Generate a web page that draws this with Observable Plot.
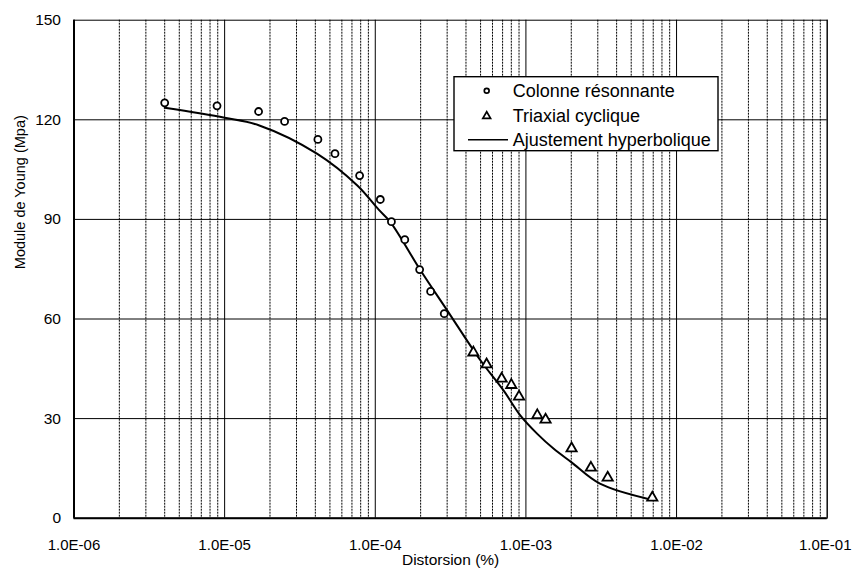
<!DOCTYPE html>
<html>
<head>
<meta charset="utf-8">
<script src="https://cdn.jsdelivr.net/npm/d3@7"></script>
<script src="https://cdn.jsdelivr.net/npm/@observablehq/plot@0.6"></script>
<style>
  html, body { margin: 0; padding: 0; background: #fff; }
  #chart { position: relative; width: 852px; height: 574px; }
</style>
</head>
<body>
<div id="chart"></div>
<script>
// Colonne résonnante (circles)
const colX = [4.0e-6, 8.9e-6, 1.68e-5, 2.5e-5, 4.16e-5, 5.4e-5, 7.87e-5, 1.08e-4, 1.28e-4, 1.57e-4, 1.97e-4, 2.33e-4, 2.87e-4];
const colY = [125.1, 124.2, 122.5, 119.5, 114.1, 109.8, 103.2, 96.0, 89.3, 83.9, 74.9, 68.3, 61.6];
// Triaxial cyclique (triangles)
const triX = [4.48e-4, 5.48e-4, 6.9e-4, 8.0e-4, 9.0e-4, 1.19e-3, 1.35e-3, 2.01e-3, 2.7e-3, 3.49e-3, 6.9e-3];
const triY = [49.9, 46.3, 42.0, 40.1, 36.6, 31.0, 29.7, 21.0, 15.2, 12.2, 6.2];
// Ajustement hyperbolique (line)
const fitX = [4.0e-6, 1.0e-5, 1.7e-5, 4.1e-5, 7.6e-5, 1.05e-4, 1.26e-4, 2.0e-4, 3.0e-4, 5.0e-4, 7.1e-4, 9.2e-4, 1.19e-3, 1.53e-3, 2.0e-3, 3.1e-3, 6.9e-3];
const fitY = [123.6, 120.6, 118.3, 109.8, 100.2, 93.0, 89.2, 74.6, 62.6, 47.5, 38.5, 30.9, 25.4, 20.9, 16.9, 10.4, 5.5];

// Axes
const xTicks = [1e-6, 1e-5, 1e-4, 1e-3, 1e-2, 1e-1];
const xTickLabels = ["1.0E-06", "1.0E-05", "1.0E-04", "1.0E-03", "1.0E-02", "1.0E-01"];
const yTicks = [0, 30, 60, 90, 120, 150];
const yGrid = [30, 60, 90, 120];
const minorMultipliers = [2, 3, 4, 5, 6, 7, 8, 9];

const seriesNames = ["Colonne résonnante", "Triaxial cyclique", "Ajustement hyperbolique"];
const xTitle = "Distorsion (%)";
const yTitle = "Module de Young (Mpa)";

const colData = colX.map((x, i) => ({x, y: colY[i]}));
const triData = triX.map((x, i) => ({x, y: triY[i]}));
const fitData = fitX.map((x, i) => ({x, y: fitY[i]}));
const minorTicks = xTicks.slice(0, -1).flatMap(d => minorMultipliers.map(m => d * m));
const fmtX = d => xTickLabels[xTicks.indexOf(d)];

const W = 852, H = 574;
const FONT = "'Liberation Sans', Arial, sans-serif";
const chart = Plot.plot({
  width: W,
  height: H,
  marginLeft: 73.5,
  marginRight: 25.3,
  marginTop: 19.7,
  marginBottom: 56.3,
  style: {fontFamily: FONT, background: "#fff", color: "#000"},
  x: {type: "log", domain: [1e-6, 1e-1]},
  y: {domain: [0, 150]},
  marks: [
    Plot.ruleX(minorTicks, {stroke: "#000", strokeWidth: 1, strokeDasharray: "2,1"}),
    Plot.ruleX(xTicks, {stroke: "#000", strokeWidth: 1}),
    Plot.ruleY(yGrid, {stroke: "#000", strokeWidth: 1}),
    Plot.frame({stroke: "#000", strokeWidth: 1}),
    Plot.ruleX([xTicks[0]], {stroke: "#000", strokeWidth: 2}),
    Plot.ruleY([yTicks[0]], {stroke: "#000", strokeWidth: 2}),
    Plot.axisX({ticks: xTicks.slice(0, -1), tickFormat: fmtX, tickSize: 0, tickPadding: 21, fontSize: 15, label: null}),
    Plot.axisX({ticks: xTicks.slice(-1), tickFormat: fmtX, tickSize: 0, tickPadding: 21, fontSize: 15, dx: -2, label: null}),
    Plot.axisY({ticks: yTicks, tickSize: 0, tickPadding: 13, fontSize: 15.5, label: null}),
    Plot.line(fitData, {x: "x", y: "y", curve: "catmull-rom", stroke: "#000", strokeWidth: 2}),
    Plot.dot(colData, {x: "x", y: "y", r: 3.5, symbol: "circle", stroke: "#000", fill: "#fff", strokeWidth: 1.8}),
    Plot.dot(triData, {x: "x", y: "y", r: 3.8, symbol: "triangle", stroke: "#000", fill: "#fff", strokeWidth: 1.8}),
    Plot.text([xTitle], {frameAnchor: "bottom", dy: 47, fontSize: 15.5, fill: "#000"}),
    Plot.text([yTitle], {frameAnchor: "left", dx: -53.5, rotate: -90, fontSize: 14.5, fill: "#000"})
  ]
});
document.getElementById("chart").appendChild(chart);

// Legend box
const svg = d3.select(chart);
const lg = svg.append("g").attr("class", "legend").attr("text-anchor", "start");
const bx = 454, by = 76.7, bw = 264, bh = 74;
lg.append("rect").attr("x", bx).attr("y", by).attr("width", bw).attr("height", bh)
  .attr("fill", "#fff").attr("stroke", "#000").attr("stroke-width", 1.4);
const rowY = [90.7, 115.2, 139.8];
lg.append("circle").attr("cx", 486.7).attr("cy", rowY[0]).attr("r", 2.4)
  .attr("fill", "#fff").attr("stroke", "#000").attr("stroke-width", 1.7);
lg.append("path").attr("transform", `translate(486.7,${rowY[1] + 1})`)
  .attr("d", d3.symbol(d3.symbolTriangle, 26)())
  .attr("fill", "#fff").attr("stroke", "#000").attr("stroke-width", 1.7);
lg.append("line").attr("x1", 468).attr("x2", 508).attr("y1", rowY[2]).attr("y2", rowY[2])
  .attr("stroke", "#000").attr("stroke-width", 1.5);
seriesNames.forEach((name, i) => {
  lg.append("text").attr("x", 512.7).attr("y", rowY[i]).attr("dy", "0.36em")
    .attr("text-anchor", "start")
    .attr("font-size", 18).attr("fill", "#000")
    .attr("font-family", FONT).text(name);
});
</script>
</body>
</html>
